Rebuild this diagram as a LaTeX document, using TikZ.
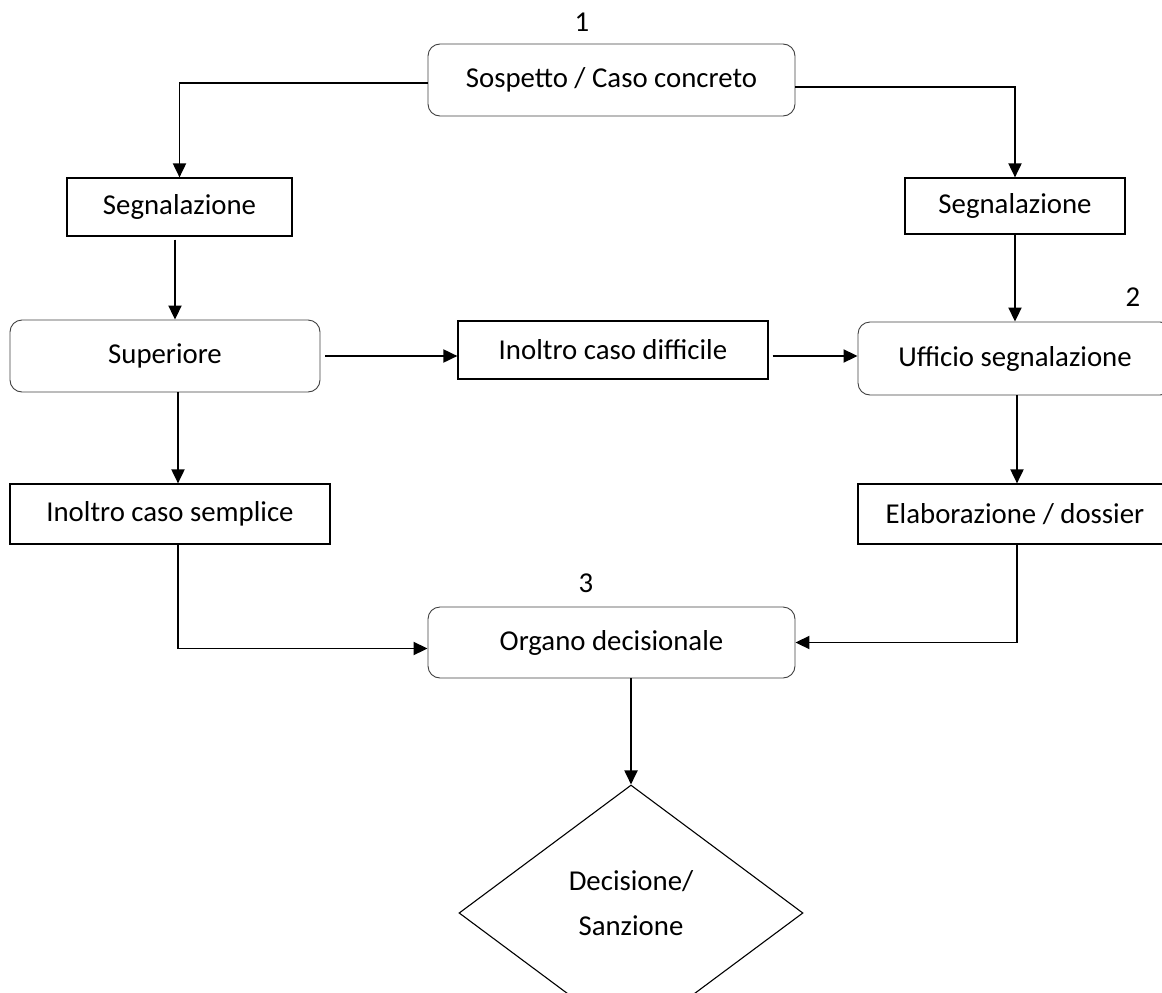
\documentclass[tikz,border=0pt]{standalone}
\usepackage{fontspec}
\setmainfont{Carlito}
\usetikzlibrary{shapes,arrows.meta}
\tikzstyle{every picture}=[x=1pt, y=-1pt, >={Triangle[length=14pt,width=13pt]},%
	font=\fontsize{28.8}{35}\selectfont]
\tikzstyle{roundbox}=[draw=black!75, line width=0.9pt, rounded corners=12pt, inner sep=0pt]
\tikzstyle{plainbox}=[draw, line width=1.2pt, inner sep=0pt]
\tikzstyle{decision}=[draw, diamond, line width=1.1pt, inner sep=0pt, align=center]
\tikzstyle{flow}=[->, line width=1.9pt]

\begin{document}
\begin{tikzpicture}
	\useasboundingbox (0,0) rectangle (1162,993);
	\clip (0,0) rectangle (1162,993);
	\node (n1) at (582,22) {1};
	\node (n2) at (1133,297) {2};
	\node (n3) at (586,583) {3};
	\node[roundbox, minimum width=367, minimum height=72] (sospetto) at (611.5,80) {Sospetto / Caso concreto};
	\node[plainbox, minimum width=225, minimum height=58] (segnL) at (179.5,207) {Segnalazione};
	\node[plainbox, minimum width=220, minimum height=56] (segnR) at (1015,206) {Segnalazione};
	\node[roundbox, minimum width=310, minimum height=72] (superiore) at (165,356) {Superiore};
	\node[plainbox, minimum width=310, minimum height=58] (difficile) at (613,350) {Inoltro caso difficile};
	\node[roundbox, minimum width=314, minimum height=73] (ufficio) at (1015,358.5) {Ufficio segnalazione};
	\node[plainbox, minimum width=320, minimum height=60] (semplice) at (170,514) {Inoltro caso semplice};
	\node[plainbox, minimum width=314, minimum height=60] (dossier) at (1015,514) {Elaborazione / dossier};
	\node[roundbox, minimum width=367, minimum height=71] (organo) at (611.5,642.5) {Organo decisionale};
	\node[decision, minimum width=344, minimum height=256,%
		font=\fontsize{28.8}{45}\selectfont] (sanzione) at (631,913) {Decisione/\\Sanzione\rule[-20pt]{0pt}{20pt}};

	\draw[flow] ([yshift=-3pt]sospetto.west) -| (segnL.north);
	\draw[flow] ([yshift=-7pt]sospetto.east) -| (segnR.north);
	\draw[flow, shorten <=3pt] ([xshift=10pt]segnL.south -| superiore.north) -- ([xshift=10pt]superiore.north);
	\draw[flow, shorten <=5pt] ([yshift=-6pt]superiore.east |- difficile.west) -- ([yshift=-6pt]difficile.west);
	\draw[flow, shorten <=4pt] ([yshift=-6pt]difficile.east) -- ([yshift=-6pt]difficile.east -| ufficio.west);
	\draw[flow] (segnR.south) -- (ufficio.north);
	\draw[flow] ([xshift=2pt]ufficio.south) -- ([xshift=2pt]dossier.north);
	\draw[flow] ([xshift=8pt]superiore.south -| semplice.north) -- ([xshift=8pt]semplice.north);
	\draw[flow] ([xshift=8pt]semplice.south) |- ([yshift=-6pt]organo.west);
	\draw[flow] ([xshift=2pt]dossier.south) |- (organo.east);
	\draw[flow] (organo.south -| sanzione.north) -- (sanzione.north);
\end{tikzpicture}
\end{document}
